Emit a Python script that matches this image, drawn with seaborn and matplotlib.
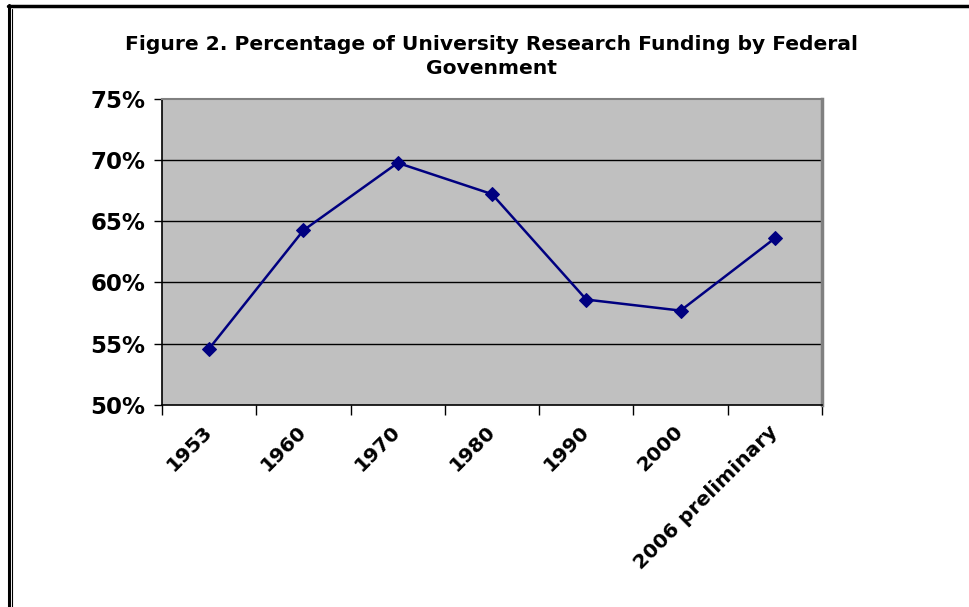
import matplotlib
matplotlib.use("Agg")
import matplotlib.pyplot as plt
import seaborn as sns
import pandas as pd
import numpy as np
from matplotlib.ticker import FixedLocator, FuncFormatter
from matplotlib.lines import Line2D

categories = ["1953", "1960", "1970", "1980", "1990", "2000", "2006 preliminary"]
values = [54.6, 64.25, 69.75, 67.2, 58.6, 57.7, 63.6]
y_ticks = [50, 55, 60, 65, 70, 75]
title_lines = ["Figure 2. Percentage of University Research Funding by Federal", "Govenment"]

sns.set_theme(style="white")
plt.rcParams["font.family"] = ["DejaVu Sans"]
plt.rcParams["text.color"] = "black"
plt.rcParams["xtick.color"] = "black"
plt.rcParams["ytick.color"] = "black"

df = pd.DataFrame({"year": categories, "pct": values})

fig = plt.figure(figsize=(9.69, 6.07), dpi=100)
ax = fig.add_axes([162/969, 1-405/607, (822-162)/969, (405-98.5)/607])
ax.set_facecolor("#C0C0C0")

sns.lineplot(data=df, x="year", y="pct", ax=ax, color="#000080", lw=1.8,
             marker="D", markersize=7, markeredgecolor="#000080", sort=False)

ax.set_xlim(-0.5, len(categories) - 0.5)
ax.set_ylim(50, 75)
ax.set_yticks(y_ticks)
ax.yaxis.set_major_formatter(FuncFormatter(lambda v, p: f"{int(v)}%"))
for y in y_ticks[1:-1]:
    ax.axhline(y, color="black", lw=1, zorder=0.5)

ax.set_xticks(range(len(categories)))
ax.set_xticklabels(categories, rotation=45, ha="right", va="center",
                   rotation_mode="anchor", fontsize=14.5, fontweight="bold", color="black")
ax.xaxis.set_minor_locator(FixedLocator(np.arange(-0.5, len(categories), 1.0)))
ax.tick_params(axis="x", which="major", length=0, pad=17)
ax.tick_params(axis="x", which="minor", length=7, width=1, color="black", bottom=True)
ax.tick_params(axis="y", which="major", length=6, width=1, color="black", left=True,
               labelsize=16.5, pad=6, labelcolor="black")
for lab in ax.get_yticklabels():
    lab.set_fontweight("bold")

ax.set_xlabel("")
ax.set_ylabel("")
for s in ["left", "bottom"]:
    ax.spines[s].set_color("#000000")
    ax.spines[s].set_linewidth(1.2)
ax.spines["top"].set_color("#808080")
ax.spines["top"].set_linewidth(1.5)
ax.spines["right"].set_color("#808080")
ax.spines["right"].set_linewidth(2.5)

fig.text(491/969, 1-44/607, title_lines[0],
         ha="center", va="center", fontsize=14.6, fontweight="bold", color="black")
fig.text(491/969, 1-68/607, title_lines[1],
         ha="center", va="center", fontsize=14.6, fontweight="bold", color="black")

# figure border (double line at left, thick line on top)
fig.add_artist(Line2D([8.5/969, 8.5/969], [0, 1-5/607], transform=fig.transFigure,
                      color="black", lw=2.2))
fig.add_artist(Line2D([11.5/969, 11.5/969], [0, 1-9/607], transform=fig.transFigure,
                      color="black", lw=0.8))
fig.add_artist(Line2D([7.5/969, 1], [1-5.5/607, 1-5.5/607], transform=fig.transFigure,
                      color="black", lw=2.5))

fig.savefig("out.png", dpi=100)
